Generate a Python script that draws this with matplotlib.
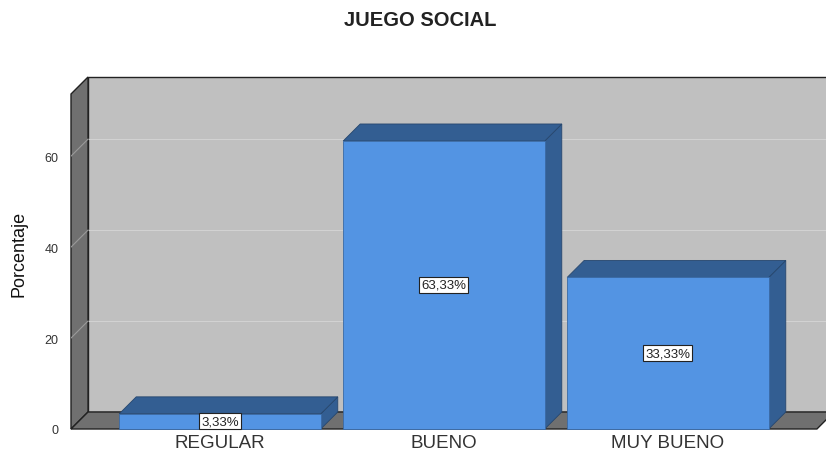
import matplotlib
matplotlib.use("Agg")
import matplotlib.pyplot as plt
from matplotlib.patches import Polygon

categories = ["REGULAR", "BUENO", "MUY BUENO"]
values = [3.33, 63.33, 33.33]
labels = ["3,33%", "63,33%", "33,33%"]
yticks = [0, 20, 40, 60]

plt.rcParams['font.family'] = ['Liberation Sans', 'DejaVu Sans']

# 3d look: depth offset in data units
dx, dy = 0.076, 3.74
bw = 0.9
x0, x1 = -0.665, 2.665
ytop = 77.4

front_c = "#5394e3"
dark_c = "#335e92"
wall_c = "#c0c0c0"
side_c = "#707070"

fig = plt.figure(figsize=(8.26, 4.52), dpi=100)
ax = fig.add_axes([71 / 826, 22 / 452, 755 / 826, 352 / 452])
ax.set_xlim(x0, x0 + 755 / 224)
ax.set_ylim(0, ytop)

def poly(pts, fc, ec, lw=0.8, z=1):
    ax.add_patch(Polygon(pts, closed=True, fc=fc, ec=ec, lw=lw, zorder=z, clip_on=False))

# back wall, left wall, floor
poly([(x0 + dx, dy), (x1 + dx + 0.2, dy), (x1 + dx + 0.2, ytop), (x0 + dx, ytop)], wall_c, "#222222", 1.0, 1)
poly([(x0, 0), (x0 + dx, dy), (x0 + dx, ytop), (x0, ytop - dy)], side_c, "#222222", 1.0, 2)
poly([(x0, 0), (x1, 0), (x1 + dx, dy), (x0 + dx, dy)], side_c, "#222222", 1.0, 2)

# gridlines
for v in yticks[1:]:
    ax.plot([x0, x0 + dx], [v, v + dy], color="#9a9a9a", lw=0.8, zorder=2.5)
    ax.plot([x0 + dx, x1 + dx + 0.2], [v + dy, v + dy], color="#d2d2d2", lw=0.8, zorder=1.5)

# bars
for i, (v, lab) in enumerate(zip(values, labels)):
    l, r = i - bw / 2, i + bw / 2
    poly([(r, 0), (r + dx, dy), (r + dx, v + dy), (r, v)], dark_c, "#27476e", 0.6, 3)
    poly([(l, v), (r, v), (r + dx, v + dy), (l + dx, v + dy)], dark_c, "#27476e", 0.6, 3)
    poly([(l, 0), (r, 0), (r, v), (l, v)], front_c, "#3a6aa5", 0.6, 4)
    ax.text(i, v / 2, lab, ha="center", va="center", fontsize=9.5, color="#222222", zorder=5,
            bbox=dict(boxstyle="square,pad=0.15", fc="white", ec="#222222", lw=0.8))

for s in ax.spines.values():
    s.set_visible(False)
ax.set_xticks(range(len(categories)))
ax.set_xticklabels(categories, fontsize=13.5, color="#333333")
ax.set_yticks(yticks)
ax.set_yticklabels([str(t) for t in yticks], fontsize=9, color="#333333")
ax.tick_params(axis="both", length=0)
ax.tick_params(axis="x", pad=3.5)
ax.tick_params(axis="y", pad=9)
ax.set_ylabel("Porcentaje", fontsize=13, color="#111111", labelpad=12)

fig.text(0.509, 0.955, "JUEGO SOCIAL", ha="center", va="center", fontsize=14.5, fontweight="bold", color="#222222")

fig.savefig("out.png", dpi=100)
